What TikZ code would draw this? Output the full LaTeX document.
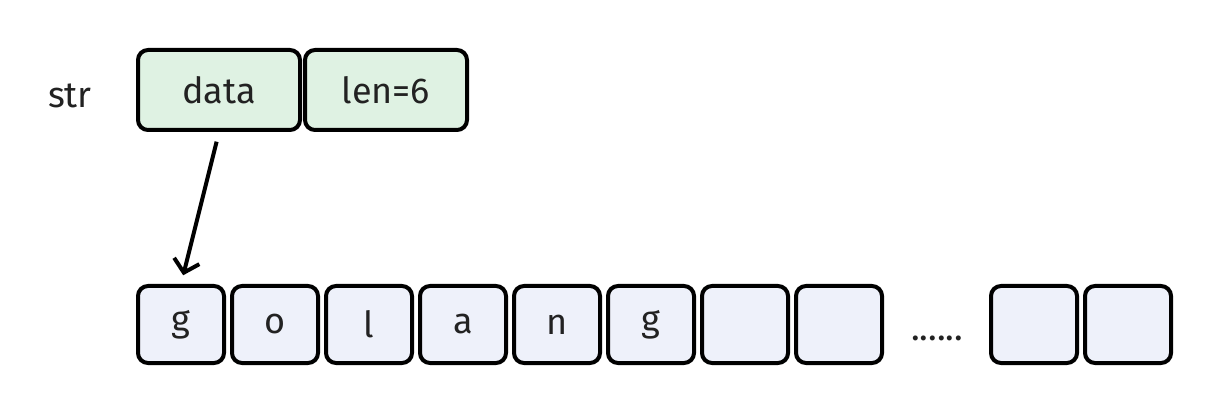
\documentclass[tikz,border=0pt]{standalone}
\usepackage{fontspec}
\setmainfont{Fira Sans}
\usepackage{tikz}
\usetikzlibrary{arrows.meta,positioning}

\definecolor{hdrgreen}{RGB}{223,242,227}
\definecolor{cellblue}{RGB}{238,241,250}
\definecolor{ink}{RGB}{34,34,34}

\tikzset{
  box/.style = {draw=black, line width=2pt, rounded corners=5pt, text=ink,
                font=\fontsize{18}{21}\selectfont, inner sep=0pt},
  hdr/.style = {box, fill=hdrgreen, minimum width=81pt, minimum height=40pt},
  cell/.style = {box, fill=cellblue, minimum width=43pt, minimum height=38.5pt}
}

\begin{document}
\begin{tikzpicture}[x=.5pt, y=-.5pt]
\useasboundingbox (0,0) rectangle (1224,416);

\node[text=ink, font=\fontsize{18}{21}\selectfont] (str) at (70,96) {str};
\node[hdr] (data) at (219,90) {data};
\node[hdr, right=.5pt of data] (len) {len=6};

% the bytes
\node[cell] (c1) at (181,324.5) {g};
\foreach \ch [count=\i from 2, remember=\i as \j (initially 1)] in {o,l,a,n,g,{},{}}
  \node[cell, right=2pt of c\j] (c\i) {\ch};

\node[text=ink, font=\fontsize{18}{21}\selectfont, anchor=base] (dots) at (937,341) {......};
\node[cell] (e1) at (1034,324.5) {};
\node[cell, right=2pt of e1] (e2) {};

\draw[line width=2pt, -{Straight Barb[length=6pt,width=13pt]}, shorten <=5pt, shorten >=4.5pt]
  (data.south) -- (c1.north);
\end{tikzpicture}
\end{document}
